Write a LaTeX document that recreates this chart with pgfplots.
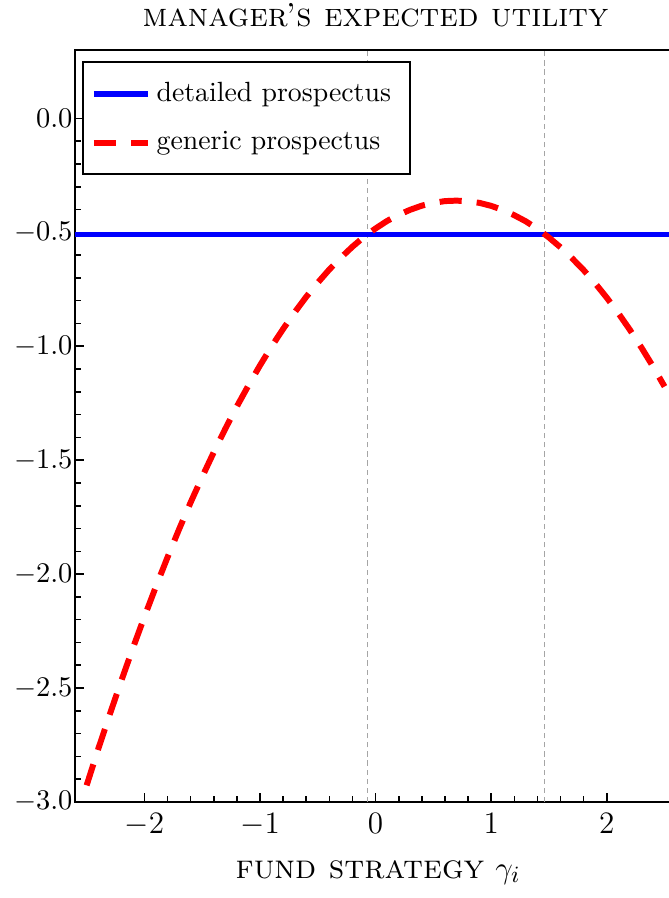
\documentclass[border=0pt]{standalone}
\usepackage{pgfplots}
\pgfplotsset{compat=1.18}
\definecolor{vgray}{RGB}{165,165,165}
\begin{document}
\begin{tikzpicture}
\begin{axis}[
  at={(0,0)}, anchor=south west,
  scale only axis, width=231.4pt, height=289.5pt,
  xmin=-2.6, xmax=2.6, ymin=-3, ymax=0.3,
  xtick={-2,-1,0,1,2},
  ytick={-3,-2.5,-2,-1.5,-1,-0.5,0},
  minor x tick num=4, minor y tick num=4,
  tick align=inside, tick pos=left,
  major tick length=3.5pt, minor tick length=2.2pt,
  every tick/.style={black, line width=0.6pt},
  axis line style={line width=0.7pt},
  yticklabel style={/pgf/number format/.cd, fixed, fixed zerofill, precision=1, /tikz/.cd,
    font=\fontsize{10.5}{12}\selectfont, inner xsep=0pt, xshift=-0.8pt},
  xticklabel style={font=\fontsize{11.5}{13}\selectfont, anchor=base, yshift=-12.3pt},
  title={\textsc{manager's expected utility}},
  every axis title/.style={at={(0.5,1)}, anchor=base, yshift=9.2pt, inner sep=0pt,
    font=\fontsize{12.8}{15}\selectfont},
  xlabel={\textsc{fund strategy} $\gamma_i$},
  every axis x label/.style={at={(0.5,0)}, anchor=base, yshift=-29.3pt, xshift=1pt,
    font=\fontsize{13}{15}\selectfont},
  legend cell align=left,
  legend style={at={(0,1)}, anchor=north west, xshift=2.7pt, yshift=-4.1pt,
    draw=black, line width=0.8pt, row sep=5.95pt, inner ysep=6pt,
    font=\fontsize{10.7}{13}\selectfont},
  legend image code/.code={\draw[#1] (0pt,0pt) -- (21pt,0pt);},
]
\addplot[vgray, line width=0.4pt, dash pattern=on 2pt off 1.5pt, forget plot]
  coordinates {(-0.07,-3) (-0.07,0.3)};
\addplot[vgray, line width=0.4pt, dash pattern=on 2pt off 1.5pt, forget plot]
  coordinates {(1.465,-3) (1.465,0.3)};
\addplot[blue, line width=2.1pt] coordinates {(-2.6,-0.51) (2.6,-0.51)};
\addlegendentry{detailed prospectus\hspace*{2.3pt}}
\addplot[red, line width=2.3pt, dash pattern=on 8.5pt off 5.8pt] coordinates {
(-2.5,-2.927) (-2.4,-2.768) (-2.3,-2.616) (-2.2,-2.468) (-2.1,-2.325)
(-2.0,-2.187) (-1.9,-2.054) (-1.8,-1.926) (-1.7,-1.803) (-1.6,-1.685)
(-1.5,-1.573) (-1.4,-1.465) (-1.3,-1.362) (-1.2,-1.264) (-1.1,-1.172)
(-1.0,-1.084) (-0.9,-1.001) (-0.8,-0.924) (-0.7,-0.851) (-0.6,-0.783)
(-0.5,-0.721) (-0.4,-0.663) (-0.3,-0.611) (-0.2,-0.563) (-0.1,-0.520)
(0.0,-0.483) (0.1,-0.450) (0.2,-0.423) (0.3,-0.401) (0.4,-0.383)
(0.5,-0.371) (0.6,-0.363) (0.7,-0.361) (0.8,-0.364) (0.9,-0.371)
(1.0,-0.384) (1.1,-0.402) (1.2,-0.425) (1.3,-0.452) (1.4,-0.485)
(1.5,-0.523) (1.6,-0.566) (1.7,-0.614) (1.8,-0.666) (1.9,-0.724)
(2.0,-0.787) (2.1,-0.855) (2.2,-0.928) (2.3,-1.006) (2.4,-1.089)
(2.5,-1.177)
};
\addlegendentry{generic prospectus}
\end{axis}
\pgfresetboundingbox
\useasboundingbox (-28.9pt,-36.96pt) rectangle (228.3pt,308.75pt);
\end{tikzpicture}
\end{document}
